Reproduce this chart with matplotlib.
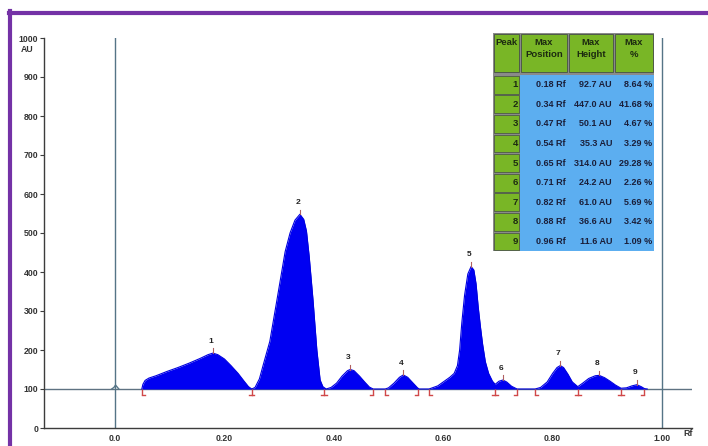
import matplotlib
matplotlib.use("Agg")
import matplotlib.pyplot as plt
from matplotlib.patches import Rectangle
from matplotlib.lines import Line2D
from matplotlib import font_manager

# ---------------- data ----------------
curve_rf = [0.049, 0.051, 0.055, 0.062, 0.075, 0.095, 0.115, 0.135, 0.155, 0.170, 0.179, 0.188,
            0.200, 0.212, 0.225, 0.236, 0.244, 0.250,
            0.256, 0.264, 0.271, 0.283, 0.296, 0.311, 0.320, 0.329, 0.338, 0.345, 0.350, 0.355,
            0.362, 0.369, 0.375, 0.380, 0.386,
            0.395, 0.405, 0.415, 0.425, 0.430, 0.437, 0.447, 0.457, 0.465, 0.472,
            0.494, 0.500, 0.510, 0.520, 0.527, 0.535, 0.545, 0.553, 0.556,
            0.574, 0.590, 0.600, 0.612, 0.620, 0.626, 0.630, 0.634, 0.639, 0.645, 0.651, 0.656,
            0.660, 0.664, 0.668, 0.672, 0.677, 0.683, 0.690, 0.695,
            0.702, 0.709, 0.716, 0.725, 0.735,
            0.768, 0.778, 0.790, 0.800, 0.808, 0.814, 0.820, 0.828, 0.836, 0.846,
            0.855, 0.866, 0.878, 0.885, 0.895, 0.905, 0.915, 0.925,
            0.935, 0.945, 0.954, 0.962, 0.968, 0.973]
curve_au = [100, 112, 122, 128, 134, 145, 155, 166, 178, 188, 192, 188,
            177, 160, 140, 120, 106, 100,
            104, 126, 162, 222, 328, 452, 500, 533, 548, 535, 505, 440,
            328, 200, 123, 106, 100,
            104, 115, 133, 147, 150, 147, 133, 117, 105, 100,
            100, 103, 115, 130, 136, 130, 115, 103, 100,
            100, 108, 118, 130, 140, 160, 200, 270, 340, 395, 414, 405,
            370, 310, 260, 215, 170, 140, 120, 112,
            120, 123, 118, 107, 100,
            100, 104, 118, 140, 155, 160, 155, 138, 118, 106,
            115, 127, 134, 135, 129, 120, 110, 102,
            103, 108, 111, 106, 101, 100]

blip_rf = [-0.006, -0.002, 0.001, 0.004, 0.007]
blip_au = [100, 104, 110, 105, 100]

peak_ids = [1, 2, 3, 4, 5, 6, 7, 8, 9]
peak_apex_rf = [0.179, 0.338, 0.430, 0.527, 0.651, 0.709, 0.814, 0.885, 0.954]
peak_apex_au = [192, 548, 150, 136, 414, 123, 160, 135, 111]

bound_rf = [0.049, 0.250, 0.382, 0.472, 0.494, 0.554, 0.574, 0.695, 0.735, 0.768, 0.846, 0.925, 0.967]
bound_kind = ['[', 'I', 'I', ']', '[', ']', '[', 'I', ']', '[', 'I', 'I', ']']

max_pos = [0.18, 0.34, 0.47, 0.54, 0.65, 0.71, 0.82, 0.88, 0.96]
max_height = [92.7, 447.0, 50.1, 35.3, 314.0, 24.2, 61.0, 36.6, 11.6]
max_pct = [8.64, 41.68, 4.67, 3.29, 29.28, 2.26, 5.69, 3.42, 1.09]

y_ticks = list(range(0, 1001, 100))
x_ticks = [0.0, 0.2, 0.4, 0.6, 0.8, 1.0]
x_ticklabels = ['0.0', '0.20', '0.40', '0.60', '0.80', '1.00']
baseline = 100

# ---------------- style ----------------
names = {f.name for f in font_manager.fontManager.ttflist}
narrow = 'Liberation Sans Narrow' if 'Liberation Sans Narrow' in names else 'Liberation Sans'
plt.rcParams['font.family'] = ['Liberation Sans', 'DejaVu Sans']

W, H = 708, 446
fig = plt.figure(figsize=(W / 100, H / 100), dpi=100)
fig.patch.set_facecolor('white')

def fx(x):
    return x / W

def fy(y):
    return 1 - y / H

ax = fig.add_axes([fx(44), fy(428), fx(692) - fx(44), fy(38) - fy(428)])
ax.set_xlim(-0.1298, 1.0548)
ax.set_ylim(0, 1000)

ax.fill_between(curve_rf, baseline, curve_au, color='#0000F2', lw=0, zorder=3)
ax.plot(curve_rf, curve_au, color='#0000E0', lw=0.8, zorder=4)
ax.axhline(baseline, color='#5E7282', lw=1.0, zorder=2)
ax.axvline(0.0, color='#557486', lw=1.0, zorder=2)
ax.axvline(1.0, color='#557486', lw=1.0, zorder=2)
ax.plot(blip_rf, blip_au, color='#557486', lw=1.0, zorder=4)

# boundary markers
bc = '#D04848'
dy = 15
fw = 0.005
for r, k in zip(bound_rf, bound_kind):
    ax.plot([r, r], [baseline, baseline - dy], color=bc, lw=1.0, zorder=5, solid_capstyle='butt')
    if k in ('[', 'I'):
        ax.plot([r, r + fw], [baseline - dy, baseline - dy], color=bc, lw=1.0, zorder=5)
    if k in (']', 'I'):
        ax.plot([r - fw, r], [baseline - dy, baseline - dy], color=bc, lw=1.0, zorder=5)

# peak labels
for pid, r, a in zip(peak_ids, peak_apex_rf, peak_apex_au):
    ax.plot([r, r], [a, a + 12], color='#B06060', lw=0.8, zorder=5)
    ax.annotate(str(pid), (r, a), xytext=(-1.5, 6), textcoords='offset points',
                ha='center', va='bottom', fontsize=6, fontweight='bold', color='#222222')

for s in ('top', 'right'):
    ax.spines[s].set_visible(False)
for s in ('left', 'bottom'):
    ax.spines[s].set_color('#3C3C3C')
    ax.spines[s].set_linewidth(1.0)

ax.set_yticks(y_ticks)
ax.set_yticklabels([str(v) for v in y_ticks])
ax.set_xticks(x_ticks)
ax.set_xticklabels(x_ticklabels)
ax.tick_params(axis='y', length=3, width=0.8, color='#3C3C3C', labelsize=6.3, pad=1, labelcolor='#333333')
ax.tick_params(axis='x', length=0, labelsize=6.3, pad=4.5, labelcolor='#333333')
for t in ax.get_yticklabels() + ax.get_xticklabels():
    t.set_fontweight('bold')

fig.text(fx(21), fy(49), 'AU', fontsize=6.3, fontweight='bold', color='#333333', va='center', ha='left')
fig.text(fx(683), fy(434), 'Rf', fontsize=6.3, fontweight='bold', color='#333333', va='center', ha='left')

# purple frame
purple = '#7432A6'
fig.add_artist(Line2D([fx(10), fx(10)], [fy(11), fy(446)], color=purple, lw=3.0))
fig.add_artist(Line2D([fx(8.5), fx(708)], [fy(13), fy(13)], color=purple, lw=3.0))

# ---------------- table ----------------
green = '#79B626'
blue = '#5CAEF0'
edge = '#4E5A48'
cols = [493, 520, 568, 614, 654]
top, head_bot = 33, 73
row_h = 19.6
rows_top = 74.5

def rect(x0, y0, x1, y1, fc, ec='none', lw=0.0):
    fig.add_artist(Rectangle((fx(x0), fy(y1)), fx(x1) - fx(x0), fy(y0) - fy(y1),
                             transform=fig.transFigure, facecolor=fc, edgecolor=ec, lw=lw))

rect(cols[0], top, cols[-1], rows_top + 9 * row_h, '#8A8A8A')
for i in range(4):
    rect(cols[i] + 0.8, top + 0.8, cols[i + 1] - 0.8, head_bot - 0.8, green, edge, 0.7)
rect(cols[1], rows_top + 0.8, cols[-1], rows_top + 9 * row_h, blue)
for j in range(9):
    y0 = rows_top + j * row_h
    rect(cols[0] + 0.8, y0 + 1.3, cols[1] - 1.2, y0 + row_h - 0.5, green, edge, 0.6)

hc = '#1C2A10'
headers = ['Peak', 'Max\nPosition', 'Max\nHeight', 'Max\n%']
for i, h in enumerate(headers):
    xc = (cols[i] + cols[i + 1]) / 2
    fig.text(fx(xc), fy(38), h, ha='center', va='top', fontsize=6.8, fontweight='bold',
             color=hc, family=[narrow, 'DejaVu Sans'], linespacing=1.4)

tc = '#1A1F3A'
for j in range(9):
    yc = rows_top + (j + 0.5) * row_h + 0.5
    fig.text(fx(518), fy(yc), str(peak_ids[j]), ha='right', va='center', fontsize=6.8,
             fontweight='bold', color=hc, family=[narrow, 'DejaVu Sans'])
    fig.text(fx(566), fy(yc), f'{max_pos[j]:.2f} Rf', ha='right', va='center', fontsize=6.5,
             fontweight='bold', color=tc, family=[narrow, 'DejaVu Sans'])
    fig.text(fx(612), fy(yc), f'{max_height[j]:.1f} AU', ha='right', va='center', fontsize=6.5,
             fontweight='bold', color=tc, family=[narrow, 'DejaVu Sans'])
    fig.text(fx(652), fy(yc), f'{max_pct[j]:.2f} %', ha='right', va='center', fontsize=6.5,
             fontweight='bold', color=tc, family=[narrow, 'DejaVu Sans'])

fig.savefig('out.png', dpi=100, facecolor='white')
